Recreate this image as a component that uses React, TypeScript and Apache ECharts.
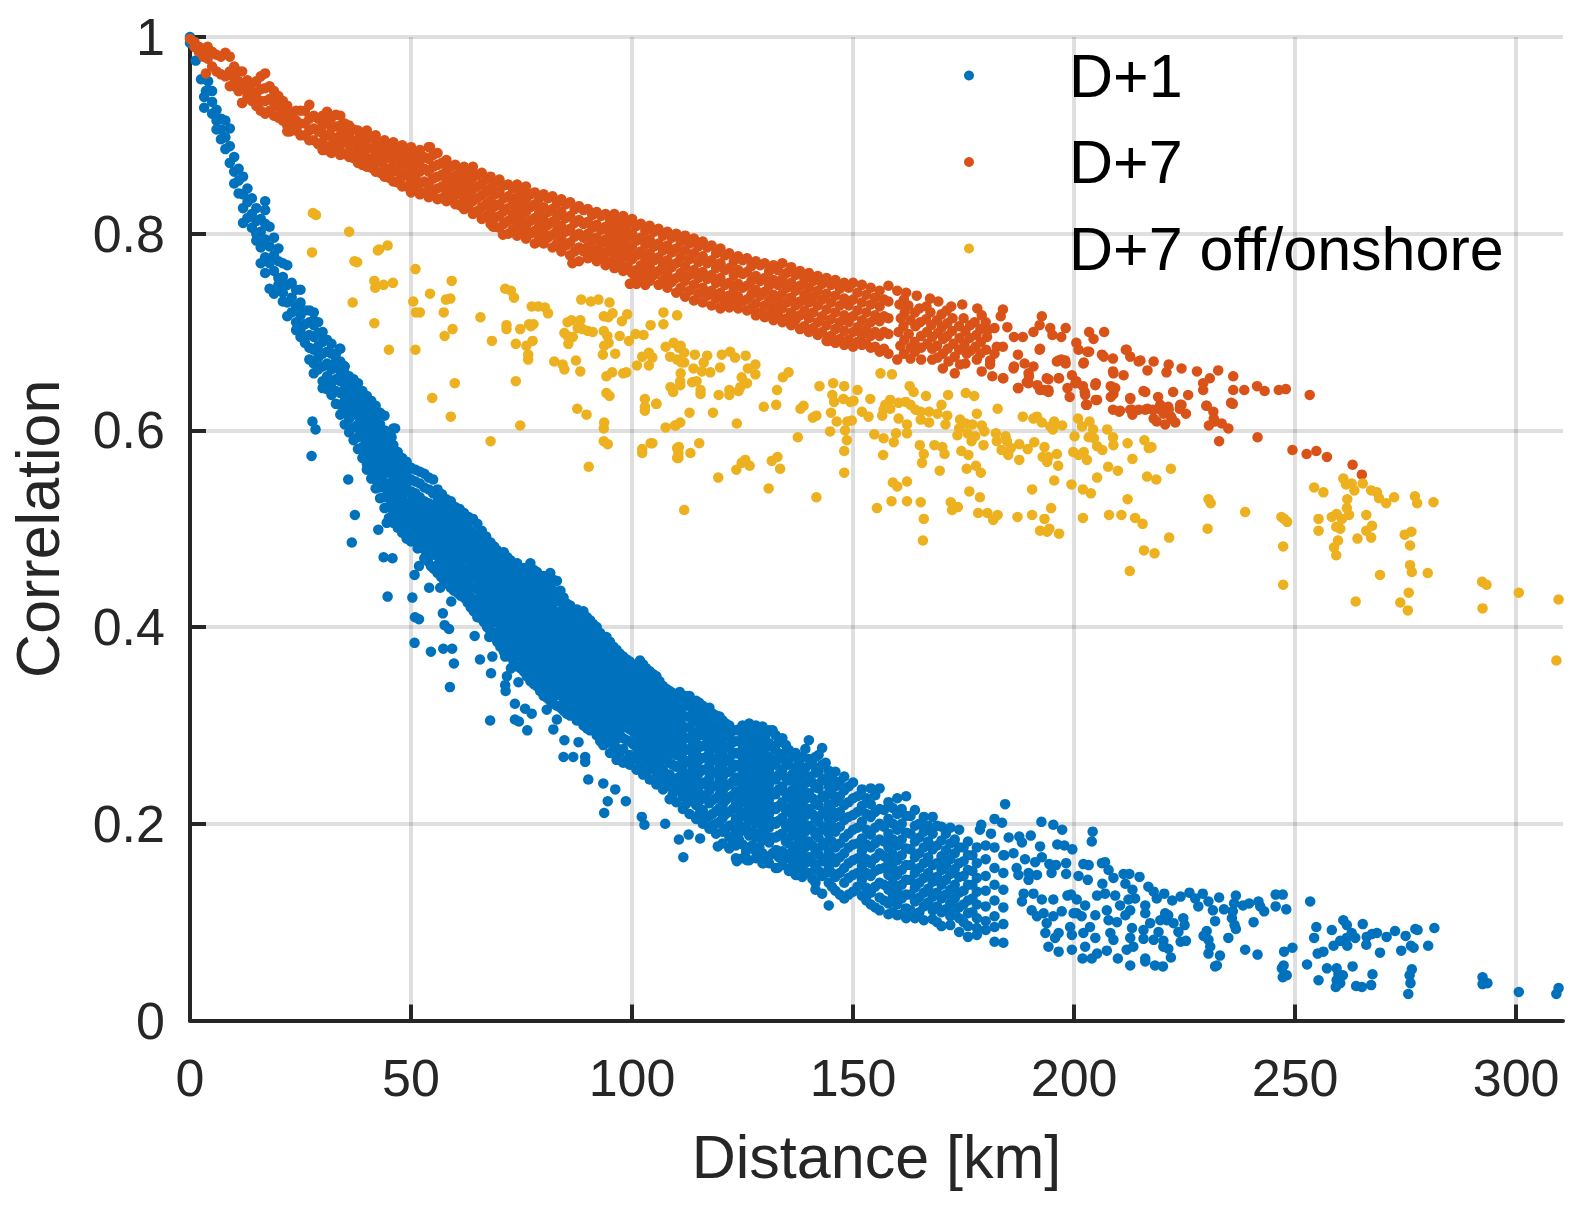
import React, { useEffect, useRef } from "react";
import * as echarts from "echarts";

const xTicks = [0, 50, 100, 150, 200, 250, 300];
const seriesNames = ["D+1", "D+7", "D+7 off/onshore"];

// Each row: distance in km, then the correlations read at that distance.
const blueEarly: number[][] = [
  [0, 1, 0.994], [1.3, 0.976], [2.5, 0.957], [3.2, 0.928, 0.939], [3.6, 0.945], [4.1, 0.955, 0.946],
  [5, 0.945, 0.934, 0.922], [6, 0.926, 0.915, 0.906], [7, 0.917, 0.906, 0.896], [8, 0.915, 0.898, 0.886],
  [9, 0.907, 0.889, 0.872], [10, 0.878, 0.863, 0.851], [11, 0.866, 0.854, 0.841], [12, 0.858, 0.84, 0.826, 0.811],
  [13, 0.846, 0.832, 0.816], [14, 0.836, 0.82, 0.806], [15, 0.826, 0.813, 0.8, 0.793], [16, 0.815, 0.802, 0.786, 0.77],
  [17, 0.833, 0.824, 0.81, 0.794, 0.776, 0.76], [18, 0.807, 0.787, 0.77, 0.744], [19, 0.796, 0.778, 0.762, 0.739], [20, 0.785, 0.772, 0.755, 0.748],
  [21, 0.77, 0.756, 0.74, 0.731], [22, 0.768, 0.748, 0.73, 0.716], [23, 0.75, 0.735, 0.72], [24, 0.743, 0.726, 0.71, 0.702],
  [25, 0.743, 0.73, 0.717, 0.702, 0.695], [26, 0.722, 0.708, 0.695, 0.689], [27, 0.722, 0.71, 0.697, 0.684, 0.672], [28, 0.707, 0.695, 0.682, 0.668, 0.658],
  [29, 0.699, 0.686, 0.674, 0.662], [30, 0.69, 0.678, 0.665, 0.65, 0.643], [31, 0.68, 0.668, 0.655, 0.642], [32, 0.678, 0.662, 0.648, 0.636],
  [33, 0.665, 0.652, 0.64, 0.627], [34, 0.683, 0.65, 0.638, 0.626, 0.616], [35, 0.665, 0.642, 0.63, 0.618, 0.606], [36, 0.636, 0.624, 0.612, 0.598],
  [37, 0.628, 0.616, 0.603, 0.59], [38, 0.618, 0.606, 0.593, 0.581], [39, 0.608, 0.596, 0.583, 0.572], [40, 0.602, 0.59, 0.578, 0.566, 0.56],
  [41, 0.597, 0.584, 0.572, 0.56, 0.551], [42, 0.588, 0.575, 0.563, 0.55, 0.541], [43, 0.578, 0.566, 0.554, 0.542, 0.531], [44, 0.615, 0.568, 0.556, 0.544, 0.532, 0.521],
  [45, 0.593, 0.558, 0.546, 0.534, 0.522, 0.511], [46, 0.602, 0.552, 0.54, 0.528, 0.516, 0.506], [47, 0.547, 0.535, 0.523, 0.511, 0.501], [48, 0.542, 0.53, 0.518, 0.506, 0.496],
  [49, 0.537, 0.525, 0.513, 0.501, 0.49],
];

// Upper side of the cloud between about 28 and 67 km.
const blueUpper: number[][] = [
  [28, 0.72, 0.712], [29, 0.71], [30, 0.7], [31, 0.692], [32, 0.688], [33, 0.678, 0.67], [34, 0.67, 0.66], [35, 0.658, 0.652], [36, 0.655, 0.647], [37, 0.652, 0.642], [37.5, 0.634, 0.622],
  [38, 0.648, 0.637, 0.627], [38.5, 0.612, 0.6], [39, 0.64, 0.628, 0.618], [39.5, 0.605, 0.592], [40, 0.635, 0.624, 0.612], [40.5, 0.6, 0.588, 0.574], [41, 0.63, 0.62, 0.608], [41.5, 0.596, 0.582, 0.568], [42, 0.625, 0.612, 0.6], [42.5, 0.59, 0.576, 0.558],
  [43, 0.618, 0.606, 0.594, 0.584], [43.5, 0.6, 0.586, 0.571, 0.55], [44, 0.6, 0.588, 0.576], [44.5, 0.59, 0.575, 0.562, 0.54], [45, 0.59, 0.58, 0.568], [45.5, 0.578, 0.56, 0.54, 0.527], [46, 0.585, 0.574, 0.562], [46.5, 0.572, 0.556, 0.535, 0.518], [47, 0.578, 0.566, 0.556], [47.5, 0.56, 0.545, 0.526, 0.51],
  [48, 0.572, 0.562, 0.55], [48.5, 0.56, 0.543, 0.522, 0.505], [49, 0.568, 0.556, 0.546], [49.5, 0.55, 0.538, 0.516, 0.498], [50, 0.562, 0.55, 0.538], [51, 0.56, 0.548, 0.536], [52, 0.558, 0.546, 0.532], [53, 0.556, 0.542, 0.528], [54, 0.552, 0.54, 0.526], [55, 0.55, 0.536, 0.524],
  [56, 0.54, 0.528, 0.518], [57, 0.535, 0.524, 0.516], [58, 0.53, 0.52], [59, 0.528, 0.516], [60, 0.522, 0.512], [61, 0.52, 0.51], [62, 0.516, 0.506], [63, 0.512], [64, 0.51], [65, 0.505], [66, 0.498], [67, 0.492],
];

const blueCore: number[][] = [
  [50, 0.528, 0.518, 0.508, 0.499, 0.487], [51.5, 0.524, 0.513, 0.503, 0.492, 0.48], [53, 0.518, 0.51, 0.499, 0.489, 0.479, 0.47], [54.5, 0.515, 0.505, 0.494, 0.484, 0.473, 0.462],
  [56, 0.512, 0.503, 0.492, 0.482, 0.472, 0.463, 0.455], [57.5, 0.51, 0.499, 0.489, 0.479, 0.468, 0.458, 0.447], [59, 0.508, 0.497, 0.486, 0.475, 0.464, 0.452, 0.44], [60.5, 0.505, 0.495, 0.484, 0.473, 0.46, 0.449, 0.435],
  [62, 0.5, 0.49, 0.48, 0.47, 0.459, 0.448, 0.438, 0.43], [63.5, 0.509, 0.498, 0.486, 0.476, 0.465, 0.453, 0.441, 0.43, 0.42], [65, 0.49, 0.48, 0.47, 0.459, 0.449, 0.438, 0.427, 0.418, 0.41], [66.5, 0.488, 0.477, 0.467, 0.456, 0.444, 0.433, 0.423, 0.413, 0.405],
  [68, 0.486, 0.476, 0.465, 0.454, 0.444, 0.433, 0.422, 0.411, 0.403, 0.395], [69.5, 0.478, 0.468, 0.457, 0.447, 0.437, 0.426, 0.416, 0.405, 0.395, 0.385], [71, 0.476, 0.466, 0.454, 0.444, 0.433, 0.424, 0.412, 0.402, 0.392, 0.382, 0.375], [72.5, 0.468, 0.457, 0.447, 0.437, 0.427, 0.417, 0.406, 0.396, 0.386, 0.377, 0.37],
  [74, 0.465, 0.453, 0.443, 0.433, 0.422, 0.412, 0.401, 0.391, 0.381, 0.371, 0.36], [75.5, 0.46, 0.45, 0.44, 0.429, 0.419, 0.408, 0.398, 0.388, 0.377, 0.366, 0.355], [77, 0.465, 0.453, 0.442, 0.431, 0.421, 0.411, 0.4, 0.39, 0.38, 0.369, 0.357, 0.345], [78.5, 0.456, 0.445, 0.435, 0.425, 0.415, 0.404, 0.393, 0.383, 0.373, 0.362, 0.351, 0.34],
  [80, 0.452, 0.442, 0.431, 0.42, 0.41, 0.4, 0.389, 0.379, 0.369, 0.358, 0.348, 0.339, 0.33], [81.5, 0.455, 0.444, 0.433, 0.423, 0.412, 0.402, 0.391, 0.381, 0.37, 0.36, 0.349, 0.337, 0.325], [83, 0.447, 0.436, 0.426, 0.415, 0.405, 0.394, 0.384, 0.374, 0.363, 0.352, 0.341, 0.331, 0.32], [84.5, 0.43, 0.42, 0.41, 0.4, 0.39, 0.38, 0.369, 0.359, 0.348, 0.338, 0.327, 0.315],
  [86, 0.422, 0.412, 0.402, 0.392, 0.381, 0.371, 0.361, 0.35, 0.34, 0.33, 0.32, 0.31], [87.5, 0.418, 0.408, 0.398, 0.388, 0.378, 0.368, 0.357, 0.347, 0.336, 0.326, 0.315, 0.305], [89, 0.416, 0.405, 0.394, 0.384, 0.374, 0.364, 0.354, 0.343, 0.333, 0.322, 0.312, 0.3], [90.5, 0.407, 0.397, 0.387, 0.377, 0.367, 0.357, 0.346, 0.336, 0.325, 0.314, 0.303, 0.295],
  [92, 0.4, 0.39, 0.38, 0.37, 0.36, 0.35, 0.34, 0.329, 0.319, 0.309, 0.299, 0.29], [93.5, 0.39, 0.38, 0.37, 0.36, 0.35, 0.34, 0.33, 0.32, 0.309, 0.3, 0.288, 0.28], [95, 0.385, 0.375, 0.365, 0.355, 0.345, 0.335, 0.325, 0.315, 0.304, 0.294, 0.283, 0.272], [96.5, 0.377, 0.367, 0.357, 0.347, 0.337, 0.327, 0.317, 0.307, 0.296, 0.286, 0.277, 0.265],
  [98, 0.37, 0.36, 0.35, 0.34, 0.33, 0.32, 0.31, 0.3, 0.287, 0.276, 0.262], [99.5, 0.365, 0.355, 0.345, 0.335, 0.326, 0.316, 0.306, 0.296, 0.284, 0.27, 0.26], [101, 0.36, 0.35, 0.34, 0.33, 0.321, 0.311, 0.301, 0.29, 0.278, 0.266, 0.255], [102.5, 0.362, 0.352, 0.342, 0.332, 0.322, 0.312, 0.302, 0.292, 0.28, 0.268, 0.25],
  [104, 0.355, 0.345, 0.335, 0.325, 0.315, 0.305, 0.295, 0.285, 0.273, 0.26, 0.245], [105.5, 0.35, 0.34, 0.33, 0.32, 0.31, 0.3, 0.29, 0.278, 0.265, 0.252, 0.24], [107, 0.34, 0.33, 0.32, 0.31, 0.3, 0.29, 0.28, 0.268, 0.255, 0.245, 0.235], [108.5, 0.335, 0.325, 0.315, 0.305, 0.295, 0.285, 0.275, 0.262, 0.25, 0.238, 0.225],
  [110, 0.33, 0.32, 0.31, 0.3, 0.29, 0.28, 0.27, 0.258, 0.246, 0.234, 0.222], [111.5, 0.33, 0.32, 0.31, 0.299, 0.289, 0.278, 0.266, 0.254, 0.241, 0.228, 0.215], [113, 0.33, 0.32, 0.309, 0.298, 0.287, 0.276, 0.264, 0.251, 0.238, 0.225, 0.21], [114.5, 0.325, 0.314, 0.304, 0.293, 0.282, 0.271, 0.259, 0.246, 0.233, 0.219, 0.205],
  [116, 0.32, 0.31, 0.3, 0.29, 0.279, 0.267, 0.255, 0.242, 0.229, 0.214, 0.2], [117.5, 0.318, 0.307, 0.296, 0.285, 0.273, 0.26, 0.247, 0.234, 0.221, 0.208, 0.195], [119, 0.31, 0.299, 0.288, 0.277, 0.265, 0.252, 0.239, 0.226, 0.213, 0.2, 0.19], [120.5, 0.305, 0.294, 0.283, 0.272, 0.26, 0.247, 0.233, 0.219, 0.206, 0.192, 0.18],
  [122, 0.3, 0.289, 0.278, 0.266, 0.253, 0.24, 0.227, 0.212, 0.198, 0.187, 0.175], [123.5, 0.295, 0.284, 0.272, 0.26, 0.247, 0.233, 0.22, 0.205, 0.192, 0.178, 0.165], [125, 0.3, 0.288, 0.276, 0.263, 0.25, 0.236, 0.222, 0.208, 0.193, 0.179, 0.165], [126.5, 0.302, 0.289, 0.276, 0.262, 0.248, 0.234, 0.218, 0.203, 0.188, 0.176, 0.163],
  [128, 0.3, 0.288, 0.274, 0.26, 0.245, 0.23, 0.216, 0.2, 0.186, 0.172, 0.165], [129.5, 0.299, 0.286, 0.272, 0.258, 0.243, 0.227, 0.212, 0.197, 0.183, 0.17, 0.16], [131, 0.295, 0.282, 0.268, 0.254, 0.24, 0.225, 0.21, 0.196, 0.181, 0.167, 0.16], [132.5, 0.29, 0.275, 0.26, 0.245, 0.23, 0.215, 0.2, 0.186, 0.173, 0.155],
];

// Further readings between the columns above, where the cloud is thickest.
const blueCoreInner: number[][] = [
  [50.7, 0.524, 0.513, 0.496], [52.2, 0.52, 0.507, 0.497, 0.485], [53.8, 0.516, 0.504, 0.493, 0.483, 0.467], [55.2, 0.51, 0.499, 0.488, 0.477, 0.459], [56.8, 0.507, 0.496, 0.486, 0.476, 0.466, 0.451],
  [58.2, 0.504, 0.493, 0.482, 0.47, 0.46, 0.444], [59.7, 0.5, 0.49, 0.479, 0.469, 0.456, 0.445, 0.437], [61.2, 0.498, 0.488, 0.477, 0.465, 0.453, 0.442, 0.432], [62.8, 0.502, 0.493, 0.482, 0.47, 0.458, 0.446, 0.434, 0.425], [64.2, 0.495, 0.484, 0.473, 0.462, 0.451, 0.44, 0.428, 0.416],
  [65.8, 0.486, 0.475, 0.463, 0.451, 0.441, 0.431, 0.421, 0.409], [67.2, 0.481, 0.471, 0.46, 0.448, 0.437, 0.426, 0.415, 0.4], [68.8, 0.482, 0.47, 0.459, 0.449, 0.438, 0.428, 0.417, 0.407, 0.39], [70.2, 0.472, 0.461, 0.451, 0.44, 0.43, 0.419, 0.409, 0.398, 0.388, 0.38], [71.8, 0.471, 0.46, 0.45, 0.44, 0.429, 0.419, 0.408, 0.397, 0.387, 0.373],
  [73.2, 0.462, 0.451, 0.44, 0.43, 0.419, 0.408, 0.398, 0.388, 0.376, 0.365], [74.8, 0.459, 0.447, 0.437, 0.427, 0.416, 0.406, 0.395, 0.384, 0.374, 0.358], [76.2, 0.458, 0.447, 0.436, 0.425, 0.414, 0.404, 0.394, 0.383, 0.372, 0.361, 0.35], [77.8, 0.458, 0.448, 0.438, 0.428, 0.417, 0.406, 0.396, 0.385, 0.375, 0.364, 0.352, 0.342], [79.2, 0.45, 0.44, 0.429, 0.418, 0.407, 0.397, 0.386, 0.376, 0.365, 0.354, 0.345, 0.335],
  [80.8, 0.449, 0.438, 0.426, 0.415, 0.405, 0.394, 0.384, 0.373, 0.363, 0.353, 0.343, 0.328], [82.2, 0.448, 0.437, 0.427, 0.417, 0.407, 0.396, 0.386, 0.375, 0.365, 0.354, 0.344, 0.334, 0.322], [83.8, 0.437, 0.426, 0.415, 0.405, 0.396, 0.386, 0.376, 0.366, 0.355, 0.345, 0.334, 0.318], [85.2, 0.424, 0.414, 0.404, 0.394, 0.384, 0.374, 0.363, 0.353, 0.343, 0.332, 0.322, 0.312], [86.8, 0.417, 0.406, 0.396, 0.385, 0.375, 0.365, 0.355, 0.345, 0.334, 0.323, 0.312],
  [88.2, 0.412, 0.402, 0.391, 0.381, 0.371, 0.36, 0.35, 0.34, 0.33, 0.319, 0.308], [89.8, 0.41, 0.4, 0.39, 0.38, 0.37, 0.36, 0.349, 0.339, 0.328, 0.317, 0.306, 0.297], [91.2, 0.403, 0.393, 0.383, 0.373, 0.363, 0.353, 0.343, 0.332, 0.321, 0.31, 0.298], [92.8, 0.394, 0.384, 0.374, 0.364, 0.354, 0.344, 0.334, 0.324, 0.313, 0.303, 0.292, 0.284], [94.2, 0.39, 0.378, 0.368, 0.358, 0.348, 0.338, 0.328, 0.318, 0.307, 0.297, 0.285],
  [95.8, 0.38, 0.37, 0.36, 0.35, 0.34, 0.33, 0.32, 0.31, 0.3, 0.289, 0.278], [97.2, 0.373, 0.363, 0.353, 0.343, 0.333, 0.323, 0.313, 0.303, 0.291, 0.272], [98.8, 0.367, 0.357, 0.347, 0.337, 0.328, 0.318, 0.308, 0.298, 0.285, 0.265], [100.2, 0.362, 0.352, 0.342, 0.332, 0.323, 0.314, 0.304, 0.294, 0.281, 0.268], [101.8, 0.366, 0.356, 0.346, 0.336, 0.326, 0.316, 0.306, 0.296, 0.285, 0.272, 0.258],
  [103.2, 0.358, 0.348, 0.338, 0.328, 0.318, 0.308, 0.298, 0.288, 0.276, 0.264, 0.252], [104.8, 0.352, 0.342, 0.332, 0.322, 0.312, 0.302, 0.292, 0.282, 0.27, 0.256], [106.2, 0.345, 0.335, 0.325, 0.315, 0.305, 0.295, 0.285, 0.273, 0.262, 0.246], [107.8, 0.337, 0.327, 0.317, 0.307, 0.297, 0.287, 0.277, 0.265, 0.25, 0.24], [109.2, 0.333, 0.322, 0.312, 0.302, 0.292, 0.282, 0.272, 0.26, 0.243, 0.23],
  [110.8, 0.334, 0.324, 0.314, 0.303, 0.293, 0.283, 0.272, 0.26, 0.248, 0.236], [112.2, 0.33, 0.32, 0.309, 0.298, 0.287, 0.275, 0.262, 0.248, 0.233, 0.22], [113.8, 0.325, 0.315, 0.304, 0.293, 0.282, 0.27, 0.257, 0.243, 0.229], [115.2, 0.323, 0.312, 0.302, 0.29, 0.278, 0.265, 0.252, 0.238, 0.223, 0.21], [116.8, 0.314, 0.304, 0.293, 0.281, 0.268, 0.255, 0.24, 0.226, 0.206],
  [118.2, 0.312, 0.302, 0.29, 0.279, 0.266, 0.253, 0.238, 0.224, 0.21, 0.198], [119.8, 0.309, 0.296, 0.284, 0.272, 0.258, 0.245, 0.23, 0.216, 0.202], [121.2, 0.302, 0.29, 0.278, 0.264, 0.252, 0.238, 0.224, 0.21, 0.195], [122.8, 0.295, 0.283, 0.271, 0.257, 0.243, 0.229, 0.215, 0.199, 0.182], [124.2, 0.296, 0.284, 0.271, 0.258, 0.243, 0.229, 0.214, 0.2, 0.184],
  [125.8, 0.296, 0.283, 0.27, 0.255, 0.241, 0.227, 0.212, 0.197, 0.172], [127.2, 0.295, 0.282, 0.268, 0.254, 0.239, 0.224, 0.209, 0.192, 0.178], [128.8, 0.293, 0.28, 0.266, 0.251, 0.236, 0.221, 0.206, 0.19, 0.176], [130.2, 0.29, 0.277, 0.263, 0.248, 0.233, 0.218, 0.203, 0.188], [131.8, 0.295, 0.278, 0.263, 0.247, 0.232, 0.217, 0.202, 0.186, 0.17],
  [133.2, 0.283, 0.267, 0.25, 0.235, 0.218, 0.203, 0.188, 0.166],
];

const blueMid: number[][] = [
  [134, 0.287, 0.271, 0.255, 0.238, 0.222, 0.206, 0.19, 0.172, 0.158], [135.5, 0.275, 0.26, 0.244, 0.227, 0.212, 0.196, 0.18, 0.166, 0.152], [137, 0.272, 0.257, 0.24, 0.224, 0.209, 0.192, 0.177, 0.161, 0.148], [138.5, 0.268, 0.252, 0.235, 0.219, 0.203, 0.187, 0.172, 0.157, 0.146],
  [140, 0.285, 0.266, 0.248, 0.231, 0.215, 0.198, 0.182, 0.166, 0.15], [141.5, 0.268, 0.252, 0.237, 0.22, 0.205, 0.189, 0.172, 0.155, 0.14, 0.133], [143, 0.277, 0.26, 0.244, 0.227, 0.21, 0.194, 0.178, 0.162, 0.147, 0.129], [144.5, 0.254, 0.238, 0.22, 0.205, 0.19, 0.172, 0.156, 0.14, 0.117],
  [146, 0.253, 0.238, 0.222, 0.207, 0.192, 0.176, 0.161, 0.146, 0.132], [148, 0.248, 0.234, 0.219, 0.204, 0.186, 0.17, 0.155, 0.14, 0.124], [150, 0.242, 0.226, 0.209, 0.194, 0.179, 0.163, 0.148, 0.131], [152, 0.235, 0.218, 0.202, 0.185, 0.172, 0.157, 0.143, 0.127],
  [154, 0.236, 0.22, 0.207, 0.189, 0.176, 0.16, 0.147, 0.13, 0.118], [156, 0.236, 0.215, 0.2, 0.184, 0.17, 0.154, 0.14, 0.125, 0.112], [158, 0.222, 0.205, 0.19, 0.176, 0.162, 0.148, 0.133, 0.119, 0.108], [160, 0.226, 0.21, 0.194, 0.178, 0.163, 0.148, 0.132, 0.118, 0.107],
  [162, 0.228, 0.208, 0.191, 0.175, 0.158, 0.143, 0.128, 0.114, 0.104], [164, 0.214, 0.198, 0.182, 0.166, 0.15, 0.135, 0.121, 0.104], [166, 0.207, 0.192, 0.176, 0.16, 0.145, 0.13, 0.116, 0.102], [168, 0.207, 0.19, 0.174, 0.158, 0.141, 0.126, 0.112, 0.103],
  [170, 0.197, 0.183, 0.167, 0.153, 0.138, 0.124, 0.11, 0.096], [172, 0.196, 0.18, 0.164, 0.149, 0.133, 0.119, 0.106, 0.097], [174, 0.194, 0.176, 0.16, 0.146, 0.13, 0.115, 0.104, 0.09], [176, 0.182, 0.168, 0.153, 0.138, 0.122, 0.109, 0.096, 0.085],
  [178, 0.176, 0.16, 0.145, 0.131, 0.118, 0.104, 0.094, 0.087], [180, 0.178, 0.164, 0.147, 0.132, 0.116, 0.101, 0.092], [182, 0.176, 0.155, 0.138, 0.122, 0.106, 0.095, 0.08], [184, 0.168, 0.15, 0.133, 0.115, 0.098, 0.079],
  [134.8, 0.28, 0.263, 0.247, 0.231, 0.214, 0.198, 0.182, 0.165], [136.2, 0.268, 0.25, 0.234, 0.219, 0.203, 0.188, 0.172, 0.157], [137.8, 0.262, 0.247, 0.23, 0.214, 0.198, 0.183, 0.167, 0.153], [139.2, 0.276, 0.257, 0.241, 0.225, 0.208, 0.192, 0.176, 0.16], [140.8, 0.26, 0.242, 0.226, 0.21, 0.194, 0.178, 0.161, 0.144],
  [142.2, 0.27, 0.253, 0.236, 0.219, 0.202, 0.186, 0.169, 0.152], [143.8, 0.262, 0.246, 0.229, 0.213, 0.197, 0.181, 0.165, 0.15], [145.2, 0.247, 0.23, 0.213, 0.198, 0.182, 0.166, 0.15, 0.136], [147, 0.243, 0.228, 0.212, 0.197, 0.18, 0.166, 0.15, 0.128], [149, 0.238, 0.222, 0.207, 0.19, 0.176, 0.16, 0.145, 0.128],
  [151, 0.228, 0.212, 0.196, 0.18, 0.165, 0.15, 0.136], [153, 0.226, 0.21, 0.194, 0.179, 0.164, 0.15, 0.135, 0.122], [155, 0.229, 0.212, 0.196, 0.18, 0.165, 0.152, 0.136, 0.115], [157, 0.214, 0.197, 0.182, 0.167, 0.155, 0.138, 0.122], [159, 0.216, 0.2, 0.184, 0.169, 0.155, 0.14, 0.126, 0.11],
  [161, 0.215, 0.2, 0.184, 0.168, 0.153, 0.138, 0.124, 0.108], [163, 0.208, 0.19, 0.174, 0.158, 0.143, 0.128, 0.112], [165, 0.2, 0.186, 0.17, 0.155, 0.14, 0.125, 0.11], [167, 0.198, 0.182, 0.166, 0.15, 0.134, 0.12], [169, 0.198, 0.178, 0.16, 0.146, 0.13, 0.116, 0.1],
  [171, 0.19, 0.173, 0.158, 0.143, 0.128, 0.113], [173, 0.184, 0.17, 0.154, 0.138, 0.124, 0.11], [175, 0.176, 0.162, 0.147, 0.132, 0.118, 0.1], [177, 0.168, 0.152, 0.138, 0.124, 0.11],
];

const blueOutliers: number[][] = [
  [27.5, 0.574], [27.7, 0.609], [28.4, 0.601], [33.9, 0.683], [34.7, 0.666], [35.8, 0.55], [36.6, 0.486], [37.3, 0.514], [42.6, 0.499], [44.5, 0.506], [44.7, 0.431],
  [45.6, 0.593], [46.4, 0.602], [43.8, 0.471], [45.8, 0.47], [47.9, 0.502], [50.3, 0.43], [50.8, 0.453], [50.8, 0.384], [50.9, 0.41], [51.8, 0.462], [51.8, 0.408], [54.1, 0.44], [54.5, 0.375], [56.6, 0.44],
  [57.2, 0.414], [57.3, 0.378], [57.6, 0.402], [58.6, 0.398], [58.8, 0.339], [59.1, 0.426], [59.3, 0.378], [59.7, 0.363], [64.4, 0.391], [65.6, 0.367], [67.7, 0.39], [67.9, 0.305],
  [68.1, 0.353], [68.4, 0.37], [71.3, 0.37], [71.3, 0.341], [71.4, 0.335], [71.7, 0.35], [72.6, 0.358], [73.5, 0.322], [73.5, 0.306], [74.3, 0.344], [74.4, 0.304], [75.8, 0.317], [76.3, 0.295], [77.3, 0.312],
  [80.7, 0.316], [82.2, 0.296], [83, 0.306], [84.5, 0.268], [84.7, 0.285], [86.7, 0.268], [87.9, 0.283], [89.4, 0.268], [89.4, 0.263], [90.1, 0.245], [93.5, 0.241], [93.7, 0.211], [94.5, 0.223], [96.2, 0.235], [98.6, 0.223],
  [102.2, 0.207], [102.8, 0.199], [107.5, 0.2], [110.6, 0.184], [111.6, 0.166], [112.8, 0.189], [115.4, 0.185], [119.4, 0.177], [123.7, 0.162], [126, 0.163], [129.7, 0.16], [132.7, 0.173], [132.9, 0.155], [137.3, 0.148], [138.2, 0.148],
];

const blueTail: number[][] = [
  [184.4, 0.22], [182, 0.205], [183.7, 0.201], [179, 0.199], [178.7, 0.194], [181.2, 0.19], [185.2, 0.186], [187.6, 0.187], [188.2, 0.181], [190.2, 0.188], [192.6, 0.202], [195.3, 0.199], [197.3, 0.194], [204.2, 0.192], [204, 0.182],
  [192.3, 0.177], [196.2, 0.179], [197.8, 0.178], [199.6, 0.174], [186.3, 0.17], [184.2, 0.168], [188.9, 0.164], [192.7, 0.166], [191.2, 0.161], [194.4, 0.159], [195.9, 0.158], [198.2, 0.16], [194.9, 0.15], [198.2, 0.149], [202.1, 0.159], [203.3, 0.158],
  [201, 0.147], [203.1, 0.143], [206.3, 0.16], [207, 0.161], [207.8, 0.153], [208.9, 0.145], [206.4, 0.139], [211.2, 0.149], [212.5, 0.149], [214.8, 0.146], [211.6, 0.139], [213.2, 0.133], [216.8, 0.136],
  [187, 0.155], [187.4, 0.148], [189.7, 0.15], [191.6, 0.148], [189.7, 0.143], [188.6, 0.129], [190.8, 0.129], [188.2, 0.121], [192.7, 0.123], [195.3, 0.123], [190.4, 0.112], [191.6, 0.106], [193.1, 0.109], [197.2, 0.111], [195.3, 0.106], [193.8, 0.099], [193.5, 0.089], [196.5, 0.089], [195.7, 0.084], [194.2, 0.075], [196.5, 0.07], [199.5, 0.072],
  [199.1, 0.095], [199.5, 0.087], [199.3, 0.128], [198.5, 0.127], [200.6, 0.123], [200.6, 0.109], [202.5, 0.117], [199.9, 0.109], [201.7, 0.106], [204.8, 0.107], [203.6, 0.095], [202.1, 0.089], [204.8, 0.084], [202.5, 0.075], [205.2, 0.068], [201.9, 0.063], [204, 0.063], [207.4, 0.071], [209.9, 0.063],
  [205.2, 0.127], [207, 0.129], [209.3, 0.127], [212.3, 0.123], [213.8, 0.124], [210.4, 0.117], [207.4, 0.112], [212.7, 0.112], [207.8, 0.102], [209.7, 0.1], [211.6, 0.107], [208.2, 0.089], [208.9, 0.082], [213.1, 0.094], [212.7, 0.084], [213.4, 0.075], [211.9, 0.072], [212.7, 0.056], [215.7, 0.092], [215.7, 0.083], [216.1, 0.063], [216.1, 0.06], [216.1, 0.117], [216.1, 0.109], [217.2, 0.099],
  [218, 0.131], [218.7, 0.124], [220.4, 0.129], [222.2, 0.122], [224.1, 0.126], [226.1, 0.13], [227.4, 0.124], [229.1, 0.129], [228.1, 0.116], [230.4, 0.121], [231.4, 0.112], [232.8, 0.125], [233.9, 0.113], [235.9, 0.111], [236.2, 0.119], [236.6, 0.127], [238.2, 0.117], [239.6, 0.119], [241.7, 0.121], [242.1, 0.116], [243, 0.111], [245.6, 0.128], [247.2, 0.128], [245.6, 0.116], [248, 0.113], [253.4, 0.121],
  [240.6, 0.1], [235.7, 0.104], [236.3, 0.097], [236.6, 0.093], [231.9, 0.101], [230, 0.091], [229.3, 0.086], [230.4, 0.082], [234.9, 0.084], [230.8, 0.075], [230.4, 0.068], [233, 0.066], [238.7, 0.072], [241.5, 0.067], [247.5, 0.07], [249.4, 0.074], [247.4, 0.056], [247, 0.053], [248.1, 0.046], [247.2, 0.044], [232.3, 0.056], [231.9, 0.055],
  [224.7, 0.104], [225, 0.097], [223.6, 0.09], [225.3, 0.081], [224.1, 0.08], [220.6, 0.109], [221.3, 0.107], [219.5, 0.102], [221, 0.102], [222.5, 0.099], [219.1, 0.09], [218, 0.082], [220.2, 0.081], [220.2, 0.075], [221.3, 0.073], [221.9, 0.064], [218.3, 0.056], [220.1, 0.055],
  [254.8, 0.095], [254.3, 0.084], [258.3, 0.092], [260.9, 0.102], [261.7, 0.097], [265.3, 0.098], [262.8, 0.089], [263.6, 0.084], [261.7, 0.084], [260.2, 0.081], [258.7, 0.076], [261.8, 0.076], [266.1, 0.077], [266.2, 0.085], [268.5, 0.089], [267.4, 0.088], [270.7, 0.085], [272.6, 0.091], [275, 0.086], [277.2, 0.093], [277.7, 0.092], [281.5, 0.094],
  [274, 0.071], [276.2, 0.076], [276.8, 0.074], [280.1, 0.076], [269.2, 0.069], [255.1, 0.068], [256.4, 0.07], [252.7, 0.057], [257.2, 0.053], [259.4, 0.053], [263, 0.055], [255.3, 0.041], [259.8, 0.047], [260.8, 0.046], [259.4, 0.041], [260.2, 0.038], [259.2, 0.034], [263.8, 0.035], [265.1, 0.034], [267.2, 0.036], [267.5, 0.047], [276.4, 0.052], [275.9, 0.046], [276.1, 0.038], [275.6, 0.027],
  [292.4, 0.044], [292.4, 0.037], [293.5, 0.038], [300.6, 0.029], [309.6, 0.033], [309.1, 0.027],
];

const orangeEarly: number[][] = [
  [0, 0.998], [1, 0.995, 0.99], [2, 0.99, 0.985], [3, 0.988, 0.98], [3.6, 0.963], [4, 0.99, 0.978], [5, 0.985, 0.97], [6, 0.982, 0.965], [7, 0.98, 0.962], [8, 0.984, 0.96],
  [9, 0.98, 0.965, 0.95], [10, 0.97, 0.958, 0.95], [11, 0.965, 0.955, 0.945], [11.8, 0.965, 0.948, 0.933], [13, 0.956, 0.948, 0.94], [14, 0.952, 0.943, 0.935], [15, 0.955, 0.943, 0.93], [16, 0.96, 0.947, 0.935, 0.925], [17, 0.963, 0.948, 0.935, 0.922], [18, 0.95, 0.937, 0.925],
  [19, 0.945, 0.933, 0.92], [20, 0.94, 0.929, 0.918], [21, 0.935, 0.925, 0.915], [22, 0.93, 0.92, 0.91, 0.904], [23, 0.922, 0.913, 0.905], [24, 0.925, 0.915, 0.905], [25, 0.925, 0.912, 0.9], [26, 0.925, 0.912, 0.9], [27, 0.931, 0.917, 0.905, 0.895], [28, 0.92, 0.907, 0.895], [29, 0.917, 0.904, 0.891],
];

const orangeCore: number[][] = [
  [30, 0.92, 0.911, 0.902, 0.893, 0.885], [31, 0.924, 0.912, 0.9, 0.888], [32, 0.918, 0.908, 0.899, 0.89, 0.882], [33, 0.921, 0.909, 0.897, 0.886], [34, 0.92, 0.91, 0.9, 0.89, 0.88], [35, 0.912, 0.903, 0.893, 0.881], [36, 0.91, 0.901, 0.892, 0.884, 0.878], [37, 0.906, 0.894, 0.882, 0.877], [38, 0.905, 0.896, 0.887, 0.879, 0.872], [39, 0.9, 0.89, 0.88, 0.87],
  [40, 0.905, 0.896, 0.886, 0.877, 0.868], [41, 0.898, 0.887, 0.876, 0.867], [42, 0.9, 0.89, 0.881, 0.872, 0.863], [43, 0.893, 0.883, 0.873, 0.862], [44, 0.895, 0.885, 0.876, 0.867, 0.858], [45, 0.89, 0.878, 0.866, 0.857], [46, 0.893, 0.883, 0.873, 0.863, 0.853], [47, 0.887, 0.876, 0.864, 0.852], [48, 0.89, 0.88, 0.869, 0.858, 0.848], [49, 0.884, 0.872, 0.86, 0.848],
  [50, 0.888, 0.876, 0.865, 0.853, 0.842], [51, 0.881, 0.869, 0.857, 0.846], [52, 0.885, 0.874, 0.863, 0.851, 0.84], [53, 0.878, 0.866, 0.853, 0.842], [54, 0.888, 0.876, 0.863, 0.85, 0.837], [55, 0.88, 0.868, 0.856, 0.843], [56, 0.882, 0.87, 0.858, 0.846, 0.835], [57, 0.872, 0.86, 0.848, 0.836], [58, 0.875, 0.864, 0.853, 0.843, 0.833], [59, 0.868, 0.857, 0.846, 0.835], [60, 0.87, 0.859, 0.849, 0.839, 0.83],
  [61, 0.862, 0.851, 0.84, 0.829], [62, 0.868, 0.857, 0.846, 0.835, 0.825], [63, 0.862, 0.851, 0.839, 0.827], [64, 0.868, 0.857, 0.845, 0.833, 0.82], [65, 0.86, 0.848, 0.836, 0.823], [66, 0.862, 0.851, 0.839, 0.827, 0.815], [67, 0.855, 0.843, 0.83, 0.818], [68, 0.858, 0.846, 0.834, 0.822, 0.81], [69, 0.852, 0.84, 0.828, 0.816, 0.807], [70, 0.855, 0.843, 0.83, 0.818, 0.806], [71, 0.849, 0.836, 0.823, 0.81],
  [72, 0.85, 0.838, 0.826, 0.813, 0.8], [73, 0.846, 0.832, 0.818, 0.804], [74, 0.85, 0.837, 0.824, 0.811, 0.798], [75, 0.843, 0.83, 0.816, 0.803], [76, 0.848, 0.835, 0.822, 0.808, 0.795], [77, 0.84, 0.827, 0.813, 0.8], [78, 0.842, 0.83, 0.816, 0.803, 0.79], [79, 0.836, 0.822, 0.808, 0.796], [80, 0.84, 0.827, 0.814, 0.802, 0.79], [81, 0.836, 0.822, 0.809, 0.796],
  [82, 0.838, 0.825, 0.812, 0.799, 0.786], [83, 0.831, 0.817, 0.803, 0.79], [84, 0.835, 0.822, 0.808, 0.795, 0.782], [85, 0.83, 0.816, 0.802, 0.788], [86, 0.832, 0.818, 0.805, 0.791, 0.778], [87, 0.825, 0.811, 0.797, 0.782], [88, 0.828, 0.814, 0.8, 0.786, 0.772], [89, 0.824, 0.81, 0.796, 0.782], [90, 0.825, 0.812, 0.8, 0.787, 0.775], [91, 0.819, 0.806, 0.793, 0.78], [92, 0.822, 0.809, 0.796, 0.784, 0.772],
  [93, 0.818, 0.804, 0.79, 0.776], [94, 0.82, 0.807, 0.794, 0.781, 0.768], [95, 0.814, 0.8, 0.786, 0.772], [96, 0.82, 0.806, 0.792, 0.778, 0.765], [97, 0.812, 0.798, 0.784, 0.77], [98, 0.818, 0.804, 0.79, 0.776, 0.762], [99, 0.81, 0.796, 0.782, 0.767], [100, 0.815, 0.801, 0.787, 0.774, 0.76], [101, 0.808, 0.793, 0.778, 0.763, 0.749], [102, 0.81, 0.796, 0.782, 0.768, 0.755], [103, 0.803, 0.789, 0.774, 0.76],
  [104, 0.808, 0.794, 0.78, 0.766, 0.752], [105, 0.802, 0.787, 0.773, 0.758], [106, 0.805, 0.79, 0.776, 0.762, 0.748], [107, 0.798, 0.783, 0.768, 0.753], [108, 0.802, 0.788, 0.773, 0.759, 0.745], [109, 0.796, 0.781, 0.766, 0.751], [110, 0.8, 0.785, 0.77, 0.755, 0.74], [111, 0.792, 0.776, 0.76, 0.745], [112, 0.798, 0.783, 0.767, 0.752, 0.736], [113, 0.79, 0.774, 0.758, 0.742],
  [114, 0.795, 0.78, 0.763, 0.748, 0.732], [115, 0.787, 0.771, 0.755, 0.739], [116, 0.792, 0.777, 0.761, 0.745, 0.73], [117, 0.786, 0.77, 0.754, 0.737], [118, 0.788, 0.773, 0.758, 0.742, 0.727], [119, 0.78, 0.765, 0.75, 0.734], [120, 0.785, 0.77, 0.755, 0.74, 0.725], [121, 0.778, 0.763, 0.748, 0.732], [122, 0.78, 0.765, 0.75, 0.737, 0.725], [123, 0.772, 0.758, 0.743, 0.73], [124, 0.777, 0.763, 0.749, 0.736, 0.724],
  [125, 0.773, 0.759, 0.745, 0.731], [126, 0.775, 0.761, 0.747, 0.733, 0.722], [127, 0.767, 0.752, 0.738, 0.724], [128, 0.772, 0.757, 0.743, 0.729, 0.717], [129, 0.768, 0.752, 0.737, 0.72], [130, 0.77, 0.755, 0.741, 0.727, 0.715], [131, 0.762, 0.747, 0.732, 0.718], [132, 0.768, 0.753, 0.738, 0.724, 0.712], [133, 0.763, 0.748, 0.732, 0.717], [134, 0.77, 0.754, 0.739, 0.724, 0.71], [135, 0.76, 0.745, 0.73, 0.714],
  [136, 0.766, 0.75, 0.735, 0.72, 0.707], [137, 0.758, 0.742, 0.727, 0.712], [138, 0.762, 0.747, 0.731, 0.717, 0.703], [139, 0.754, 0.738, 0.722, 0.706], [140, 0.76, 0.745, 0.73, 0.714, 0.7], [141, 0.752, 0.736, 0.72, 0.704], [142, 0.757, 0.742, 0.727, 0.71, 0.697], [143, 0.749, 0.733, 0.716, 0.7], [144, 0.755, 0.739, 0.723, 0.707, 0.691], [145, 0.748, 0.73, 0.713, 0.696],
  [146, 0.753, 0.737, 0.72, 0.703, 0.689], [147, 0.744, 0.727, 0.71, 0.693], [148, 0.75, 0.734, 0.717, 0.701, 0.687], [149, 0.745, 0.727, 0.71, 0.692], [150, 0.75, 0.733, 0.716, 0.7, 0.685], [151, 0.74, 0.722, 0.705, 0.69], [152, 0.748, 0.73, 0.712, 0.697, 0.687], [153, 0.738, 0.72, 0.703, 0.688], [154, 0.745, 0.728, 0.71, 0.696, 0.684], [155, 0.735, 0.717, 0.7, 0.685], [156, 0.742, 0.726, 0.711, 0.696, 0.68], [157, 0.733, 0.716, 0.7, 0.683], [158, 0.747, 0.731, 0.714, 0.698, 0.678],
];

const orangeOutliers: number[][] = [
  [11.8, 0.933], [22.6, 0.904], [24.1, 0.905], [30.9, 0.885], [32.5, 0.885], [37, 0.877], [41.5, 0.867], [44.5, 0.858], [47.5, 0.855], [54.3, 0.888], [58.1, 0.835], [68.6, 0.807], [70.8, 0.799], [86.5, 0.77], [99.5, 0.749], [100.8, 0.755], [103, 0.748], [144.4, 0.691], [120, 0.724],
];

const orangeTail: number[][] = [
  [160, 0.742], [162, 0.74], [164.4, 0.737], [167.4, 0.734], [169.3, 0.731], [172.2, 0.726], [174.7, 0.728], [178.1, 0.724], [179.1, 0.717], [183.9, 0.723], [183.4, 0.716], [184.9, 0.705], [182, 0.704], [180.5, 0.702], [186.4, 0.695], [188.4, 0.695], [190.8, 0.7], [192.2, 0.707], [192.7, 0.716], [194.6, 0.704], [195.1, 0.697], [197.1, 0.695], [198.1, 0.704], [203.4, 0.7], [204.4, 0.693], [206.8, 0.7],
  [160.5, 0.728], [160.8, 0.714], [160.3, 0.7], [160.7, 0.686], [160, 0.672], [162.5, 0.727], [163, 0.712], [162.6, 0.698], [163, 0.684], [163, 0.673], [165, 0.724], [165.2, 0.71], [165.4, 0.696], [165.4, 0.684], [165.4, 0.672], [167.5, 0.72], [167.7, 0.707], [167.9, 0.695], [167.9, 0.683], [167.9, 0.672], [170, 0.718], [170.1, 0.705], [170.4, 0.693], [170.3, 0.678], [170.3, 0.663], [172.5, 0.714], [172.4, 0.701], [172.7, 0.688], [173, 0.675], [173, 0.658], [175, 0.714], [175.4, 0.701], [175.2, 0.688], [175.7, 0.678], [175.4, 0.668], [177.5, 0.71], [177.9, 0.697], [177.7, 0.685], [178, 0.672], [179.1, 0.66], [180, 0.71], [180.3, 0.695], [180.1, 0.682], [181, 0.671], [181, 0.667], [181.5, 0.655], [183.9, 0.685], [182, 0.678], [183.9, 0.653], [184, 0.653],
  [161.5, 0.733], [161.7, 0.72], [161.4, 0.706], [161.6, 0.692], [161.5, 0.678], [164, 0.72], [164.1, 0.706], [163.9, 0.69], [164, 0.68], [166.6, 0.726], [166.5, 0.713], [166.7, 0.7], [166.8, 0.688], [169, 0.712], [169.2, 0.699], [169, 0.686], [169.1, 0.674], [171.2, 0.722], [171.3, 0.709], [171.3, 0.696], [171.4, 0.683], [171.6, 0.67], [174, 0.706], [174.1, 0.694], [174, 0.682], [174.2, 0.667], [176.5, 0.707], [176.4, 0.694], [176.6, 0.681], [178.8, 0.703], [178.9, 0.69], [178.8, 0.678],
  [182.5, 0.685], [186.3, 0.663], [186.4, 0.665], [187.3, 0.677], [187.4, 0.643], [187.3, 0.643], [188.8, 0.668], [189.7, 0.658], [189.7, 0.648], [189.8, 0.655], [189.3, 0.649], [190.8, 0.665], [191.7, 0.646], [192.2, 0.682], [192.3, 0.683], [192.3, 0.641], [193.2, 0.641], [193.8, 0.653], [194.2, 0.652], [194.2, 0.641], [194.2, 0.639], [196.1, 0.67], [196.5, 0.653], [196.5, 0.671], [196.6, 0.653], [197.1, 0.672], [198, 0.671], [198.1, 0.668], [198.5, 0.643], [199, 0.634], [199.5, 0.656],
  [200.3, 0.648], [200.5, 0.689], [200.5, 0.65], [201, 0.682], [202, 0.645], [202.1, 0.668], [202.2, 0.669], [202.4, 0.639], [202.5, 0.636], [202.7, 0.626], [202.9, 0.626], [203, 0.68], [203.4, 0.68], [204.8, 0.646], [204.9, 0.648], [204.9, 0.631], [205.2, 0.631], [206.3, 0.677], [206.7, 0.675], [208.3, 0.645], [208.3, 0.634], [208.8, 0.673], [208.8, 0.66], [208.8, 0.621], [208.9, 0.658], [208.9, 0.637], [209.3, 0.643], [210.2, 0.619], [210.4, 0.62],
  [211.2, 0.656], [211.7, 0.682], [211.9, 0.682], [212.7, 0.675], [212.7, 0.633], [212.7, 0.632], [212.7, 0.621], [213.1, 0.621], [213.2, 0.616], [214.6, 0.67], [214.6, 0.621], [215, 0.671], [215.7, 0.64], [216.1, 0.639], [216.1, 0.621], [216.6, 0.661], [216.6, 0.622], [217.8, 0.621], [218, 0.67], [218, 0.612], [218.7, 0.609], [219, 0.634], [219, 0.622], [219.5, 0.626], [220.2, 0.617], [220.6, 0.606], [220.9, 0.659], [221.3, 0.624], [221.4, 0.667], [221.4, 0.621], [221.9, 0.614], [222.1, 0.612], [222.4, 0.639], [222.9, 0.608], [223.9, 0.622], [224, 0.626], [224.3, 0.663], [224.3, 0.626], [225.3, 0.617], [225.8, 0.636], [227.8, 0.66],
  [229.2, 0.648], [229.2, 0.641], [229.9, 0.625], [230, 0.625], [230.5, 0.605], [230.7, 0.653], [231.5, 0.619], [231.6, 0.612], [231.9, 0.609], [232.6, 0.661], [232.8, 0.589], [233.4, 0.607], [234.9, 0.602], [235.5, 0.628], [235.9, 0.627], [236, 0.655], [236, 0.641], [238.5, 0.641], [241.4, 0.645], [241.5, 0.593], [243.1, 0.64], [246.3, 0.641], [247.9, 0.642], [249.4, 0.58], [252.6, 0.576], [253.3, 0.636], [254.8, 0.579], [257.2, 0.573], [263, 0.565], [265.1, 0.555],
];

const yellowPoints: number[][] = [
  [27.8, 0.821], [28.5, 0.819], [36, 0.802], [27.6, 0.781], [42.8, 0.784], [44.7, 0.788], [42.5, 0.783], [37.2, 0.772], [37.8, 0.771], [51, 0.764], [59.2, 0.752], [41.7, 0.752], [41.9, 0.745], [43.8, 0.748], [45.9, 0.75],
  [71.3, 0.744], [72.6, 0.742], [73.3, 0.735], [54.3, 0.739], [57.9, 0.733], [58.9, 0.734], [50.5, 0.731], [36.8, 0.73], [88.5, 0.733], [90.7, 0.731], [92.4, 0.733], [94.9, 0.73], [77.3, 0.726], [78.8, 0.726], [80.3, 0.725], [81, 0.719],
  [51.1, 0.72], [52, 0.72], [57.4, 0.72], [107.1, 0.72], [110.2, 0.717], [93.6, 0.716], [95.6, 0.719], [94.6, 0.715], [98.9, 0.718], [65.7, 0.715], [41.7, 0.709], [85.4, 0.71], [86.3, 0.712], [88.3, 0.712], [97.7, 0.711], [104.2, 0.707], [107.1, 0.708],
  [76.7, 0.708], [77.7, 0.708], [77.1, 0.706], [71.6, 0.707], [71.6, 0.703], [74.7, 0.703], [59.4, 0.703], [57.6, 0.696], [87.7, 0.704], [88.8, 0.703], [90, 0.701], [91.1, 0.7], [84.7, 0.699], [85.4, 0.696], [86.6, 0.695], [85.6, 0.688],
  [93.6, 0.701], [94.4, 0.696], [94.7, 0.689], [93.7, 0.686], [93.4, 0.677], [96.2, 0.678], [97.2, 0.696], [99.3, 0.691], [100.8, 0.698], [102.6, 0.697], [68.3, 0.691], [73.7, 0.688], [76.1, 0.686], [77.5, 0.691], [76.5, 0.677], [76.5, 0.672], [107.6, 0.685], [109.4, 0.689], [111, 0.686],
  [82.4, 0.67], [84.3, 0.667], [84.7, 0.662], [87.3, 0.671], [88.3, 0.66], [103.8, 0.679], [102.3, 0.675], [104.6, 0.674], [101.1, 0.666], [103.8, 0.666], [108.6, 0.675], [110.2, 0.672], [94.2, 0.655], [95.5, 0.659], [98, 0.658], [98.7, 0.659],
  [45, 0.682], [51, 0.682], [73.7, 0.65], [59.9, 0.648], [94.2, 0.638], [94.9, 0.635], [54.8, 0.633], [59, 0.614], [102.9, 0.632], [102.9, 0.624], [102.9, 0.62], [105.5, 0.627], [87.6, 0.622], [89.7, 0.616], [93.7, 0.608], [93.6, 0.602], [74.7, 0.605], [107.6, 0.603], [109.9, 0.605], [68, 0.589], [93.6, 0.589], [94.5, 0.586], [102.3, 0.581], [102.3, 0.577], [104.2, 0.587], [110.2, 0.582], [110.2, 0.572], [90.2, 0.563],
  [111.2, 0.669], [110.6, 0.684], [111.8, 0.679], [114.2, 0.677], [111.8, 0.669], [111, 0.658], [110.9, 0.65], [110.9, 0.646], [108.7, 0.644], [109.3, 0.639], [117, 0.676], [116.2, 0.669], [113.9, 0.663], [115.8, 0.66], [117.7, 0.659], [119.9, 0.664], [120.3, 0.677], [122.2, 0.68], [123.3, 0.674], [125.7, 0.676], [127.9, 0.667], [126.2, 0.663], [127.9, 0.657], [124.8, 0.654], [126, 0.648], [124.5, 0.644], [124.1, 0.64], [122, 0.641], [122, 0.636], [119.6, 0.636], [115.5, 0.641], [115.5, 0.637], [113.6, 0.649], [114.6, 0.65],
  [135.4, 0.659], [134.1, 0.654], [132.8, 0.641], [129.8, 0.624], [132.6, 0.626], [105.5, 0.627], [113, 0.618], [118.3, 0.618], [110.9, 0.608], [109.7, 0.605], [123.7, 0.607], [104.6, 0.587], [115.2, 0.587], [110.6, 0.583], [113.2, 0.577], [110.5, 0.577], [110.5, 0.572], [125.6, 0.57], [124.8, 0.567], [126.6, 0.564], [123.6, 0.56], [132.9, 0.573], [131.6, 0.569], [133.5, 0.561], [119.5, 0.552], [130.9, 0.541], [111.8, 0.519], [141.7, 0.532],
  [142.4, 0.645], [145.5, 0.648], [148, 0.645], [151, 0.641], [145.3, 0.636], [145.7, 0.629], [147.8, 0.632], [149.4, 0.629], [150.1, 0.63], [138.8, 0.625], [138.1, 0.622], [145, 0.618], [141.7, 0.615], [140.9, 0.613], [152, 0.619], [153.5, 0.614], [153.9, 0.632], [156.2, 0.658], [158.8, 0.657], [162.8, 0.645], [163.7, 0.639], [166.5, 0.635], [171.5, 0.636], [175.5, 0.638], [177.4, 0.635],
  [158.4, 0.631], [157.3, 0.626], [156.9, 0.621], [156.6, 0.615], [158.4, 0.622], [160.3, 0.628], [161.9, 0.629], [163, 0.626], [164.1, 0.621], [160.3, 0.612], [162.2, 0.606], [165.3, 0.619], [165.3, 0.611], [167.2, 0.619], [167.2, 0.608], [169.1, 0.617], [170, 0.626], [171.3, 0.615], [170.9, 0.606], [174.2, 0.611], [175.5, 0.607], [177, 0.606], [174, 0.602], [173.6, 0.595], [175.9, 0.597], [178, 0.617], [179.1, 0.605], [177.6, 0.594], [179.7, 0.599], [176.8, 0.589], [179.5, 0.585],
  [182.7, 0.622], [182.3, 0.597], [182.5, 0.589], [184.5, 0.594], [184.8, 0.589], [183.6, 0.58], [185.7, 0.582], [185.1, 0.575], [187.6, 0.586], [189.5, 0.581], [187.6, 0.57], [191, 0.588], [188.4, 0.614], [190.8, 0.612], [191.6, 0.614], [192.7, 0.608], [194.6, 0.604], [195.5, 0.609], [197.3, 0.605], [195.2, 0.601], [193.3, 0.583], [192.9, 0.573], [194.2, 0.573], [196.1, 0.576], [193.9, 0.568], [196.4, 0.564],
  [200.9, 0.612], [203.5, 0.609], [201.8, 0.604], [204.3, 0.601], [200.1, 0.594], [203.3, 0.593], [204.5, 0.592], [207.5, 0.601], [208.8, 0.593], [208.9, 0.585], [205.2, 0.584], [206.4, 0.58], [212.1, 0.587], [215.9, 0.59], [216.9, 0.582], [199.8, 0.578], [202.2, 0.578], [201, 0.575], [202.9, 0.57], [213.2, 0.571], [207.7, 0.563], [209.9, 0.559], [205.2, 0.552], [216.5, 0.553],
  [159, 0.547], [160, 0.543], [162.2, 0.548], [155.4, 0.521], [158.7, 0.528], [162.2, 0.528], [165.3, 0.527], [166, 0.51], [165.8, 0.488], [156.8, 0.575], [156.9, 0.592], [154.8, 0.596], [159.2, 0.588], [159.7, 0.597], [162.2, 0.597], [165.1, 0.585], [166, 0.576], [165.6, 0.567], [168.4, 0.585], [170.2, 0.583], [170.7, 0.576], [169.6, 0.559], [174.5, 0.579], [176.1, 0.575], [175.7, 0.561], [177.8, 0.564], [178.9, 0.557], [176.3, 0.538], [178.7, 0.532], [172.1, 0.527], [173.7, 0.522], [172.4, 0.519], [178.3, 0.516], [180.4, 0.516], [182.7, 0.514], [181.7, 0.509],
  [187.2, 0.512], [190.5, 0.514], [190.5, 0.54], [195.5, 0.549], [194.8, 0.521], [193.3, 0.51], [192.3, 0.498], [194.4, 0.5], [193.9, 0.497], [196.6, 0.495], [199.4, 0.545], [202, 0.54], [203.8, 0.536], [202, 0.511], [207.9, 0.514], [210.7, 0.514], [212.1, 0.53], [213.8, 0.511], [215.5, 0.505], [215.8, 0.478], [212.6, 0.457],
  [144.8, 0.599], [146.3, 0.609], [148.7, 0.609], [149.7, 0.61], [148.2, 0.6], [148.6, 0.59], [148, 0.579], [148, 0.557], [137.5, 0.593],
  [217.5, 0.583], [221.9, 0.561], [218.6, 0.55], [230.4, 0.53], [230.9, 0.526], [238.7, 0.517], [230.2, 0.5], [221.5, 0.491], [218.2, 0.475], [246.9, 0.512], [247.5, 0.51], [248.2, 0.507], [247.3, 0.482], [247.3, 0.443], [254.3, 0.542], [256.4, 0.537], [260.9, 0.551], [261.5, 0.545], [262.8, 0.546], [263.4, 0.539], [265.3, 0.546], [267.2, 0.539], [268.5, 0.537], [269, 0.531], [272.4, 0.532], [270.6, 0.526], [261.8, 0.53], [261.7, 0.521], [262.2, 0.514], [259.4, 0.515], [258.3, 0.512], [260.6, 0.51], [255.3, 0.51], [255.3, 0.498], [259.3, 0.502], [260.2, 0.5], [266.1, 0.514], [267.4, 0.503], [266.1, 0.498], [267.2, 0.491], [264.1, 0.49], [259.7, 0.488], [258.8, 0.481], [259.3, 0.473],
  [277.1, 0.533], [277.6, 0.526], [281.3, 0.527], [276.3, 0.497], [274.8, 0.494], [276, 0.483], [276, 0.463], [276.4, 0.456], [280, 0.455], [269.2, 0.453], [275.7, 0.435], [273.8, 0.425], [275.5, 0.417], [263.7, 0.426], [292.3, 0.446], [293.3, 0.443], [292.4, 0.419], [300.6, 0.435], [309.6, 0.428], [309.1, 0.366],
];

const flatten = (rows: number[][]) => rows.flatMap(([km, ...ys]) => ys.map((y) => [km, y]));

const App = () => {
  const ref = useRef<HTMLDivElement>(null);
  useEffect(() => {
    if (!ref.current) return;
    const chart = echarts.init(ref.current, undefined, { renderer: "svg" });
    const font = '"Liberation Sans", Arial, sans-serif';
    const dark = "#262626";
    const grid = "rgba(38,38,38,0.15)";
    const marker = (name: string, color: string, data: number[][]) => ({
      name, type: "scatter", data, symbol: "circle", symbolSize: 10.5, clip: false,
      itemStyle: { color, opacity: 1 }, emphasis: { disabled: true },
    });
    chart.setOption({
      animation: false,
      backgroundColor: "#ffffff",
      textStyle: { fontFamily: font },
      grid: { left: 190, top: 37, width: 1373, height: 983.5, containLabel: false, outerBoundsMode: "none" },
      legend: {
        left: 964, top: 45, orient: "vertical", itemWidth: 10, itemHeight: 10, itemGap: 25.5, icon: "circle", padding: 0,
        data: seriesNames,
        textStyle: { fontFamily: font, fontSize: 61, color: "#000000", padding: [0, 0, 0, 90], lineHeight: 59 },
      },
      xAxis: {
        type: "value", min: 0, max: 310.6, name: "Distance [km]", nameLocation: "middle", nameGap: 106,
        nameTextStyle: { fontFamily: font, fontSize: 61, color: dark },
        axisLine: { onZero: false, lineStyle: { color: dark, width: 4 } },
        axisTick: { inside: true, length: 16, customValues: xTicks, lineStyle: { color: dark, width: 4 } },
        axisLabel: { customValues: xTicks, margin: 31, fontFamily: font, fontSize: 52, color: dark },
        splitLine: { show: true, lineStyle: { color: grid, width: 4 } },
      },
      yAxis: {
        type: "value", min: 0, max: 1, interval: 0.2, name: "Correlation", nameLocation: "middle", nameGap: 122,
        nameTextStyle: { fontFamily: font, fontSize: 61, color: dark },
        axisLine: { onZero: false, lineStyle: { color: dark, width: 4 } },
        axisTick: { inside: true, length: 16, lineStyle: { color: dark, width: 4 } },
        axisLabel: { margin: 25, fontFamily: font, fontSize: 52, color: dark },
        splitLine: { show: true, lineStyle: { color: grid, width: 4 } },
      },
      series: [
        marker(seriesNames[0], "#0072BD", [...flatten(blueEarly), ...flatten(blueUpper), ...flatten(blueCore), ...flatten(blueCoreInner), ...flatten(blueMid), ...blueOutliers, ...blueTail]),
        marker(seriesNames[1], "#D95319", [...flatten(orangeEarly), ...flatten(orangeCore), ...orangeOutliers, ...orangeTail]),
        marker(seriesNames[2], "#EDB120", yellowPoints),
      ],
    });
    return () => chart.dispose();
  }, []);
  return <div ref={ref} style={{ position: "absolute", left: 0, top: 0, width: 1575, height: 1205, background: "#fff" }} />;
};

export default App;
